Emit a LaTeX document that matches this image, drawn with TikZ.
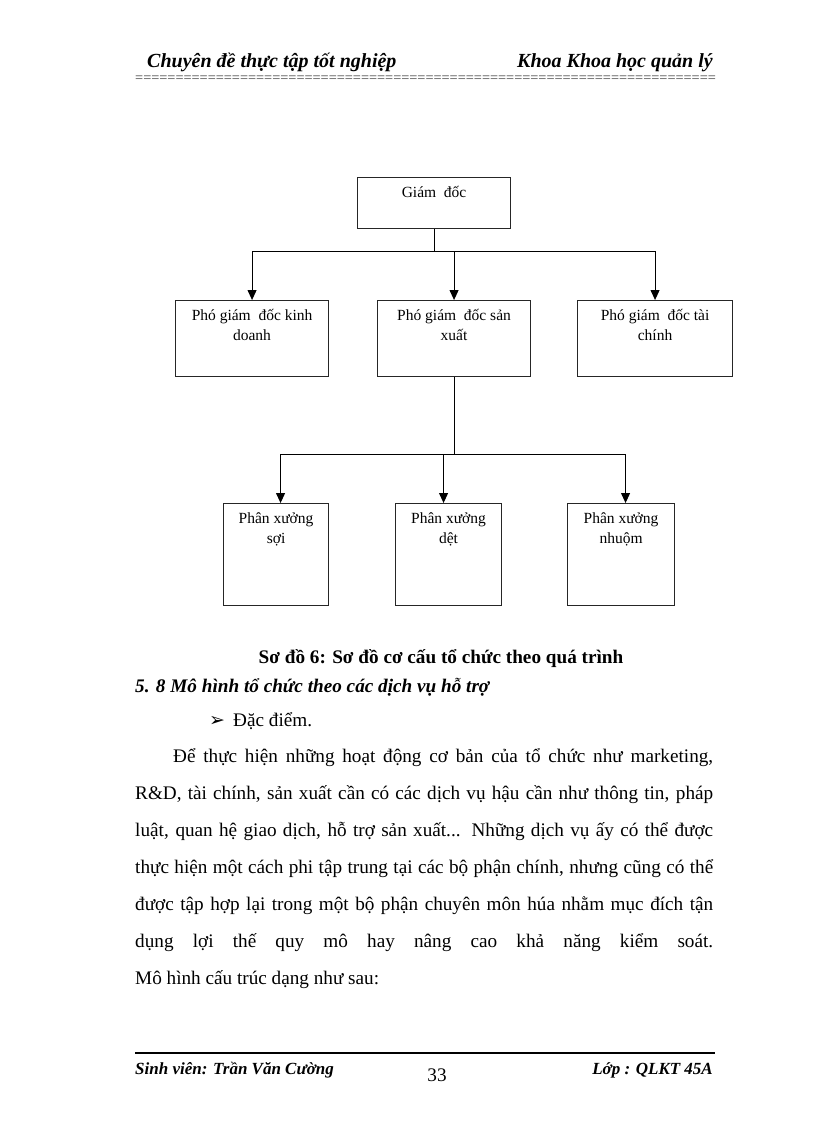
\documentclass[tikz,border=0pt]{standalone}
\usepackage{fontspec}
\setmainfont{Liberation Serif}
\newfontfamily\symfont{DejaVu Sans}
\usetikzlibrary{arrows.meta,positioning}
\newcommand\fsz[2]{\fontsize{#1}{#2}\selectfont}
\tikzset{
 unit/.style={draw=black!85,line width=1.1pt,inner sep=0pt,anchor=north west},
 unittext/.style={font=\fsz{15.5}{20},align=center,inner sep=0pt},
 arr/.style={-{Triangle[length=10pt,width=9pt]},line width=1pt},
 link/.style={line width=1pt},
 pagetext/.style={inner sep=0pt,anchor=base west},
 hdr/.style={pagetext,font=\fsz{20}{24}\bfseries\itshape},
 ftr/.style={pagetext,font=\fsz{17}{20}\bfseries\itshape},
 body/.style={pagetext,font=\fsz{19.2}{37}}
}
\begin{document}
\begin{tikzpicture}[x=1pt,y=-1pt]
\fill[white] (0,0) rectangle (816,1123);
\useasboundingbox (0,0) rectangle (816,1123);
% header and footer
\node[hdr] (hleft) at (147,68) {Chuyên đề thực tập tốt nghiệp};
\node[hdr,anchor=base east] (hright) at (713,68) {Khoa Khoa học quản lý};
\node[pagetext,font=\fsz{14.3}{16},text=black!75] (hrule) at (135,83) {\foreach \i in {1,...,72}{=}};
\draw[line width=2pt] (135,1053) -- (715,1053);
\node[ftr] (fleft) at (135,1074) {Sinh viên: Trần Văn Cường};
\node[body,anchor=base] (fpage) at (437,1081) {33};
\node[ftr,anchor=base east] (fright) at (713,1074) {Lớp : QLKT 45A};
% chart
\node[unit,minimum width=153,minimum height=51] (gd) at (357,177) {};
\node[unittext,below=9pt of gd.north] (gd-t) {Giám~ đốc};
\node[unit,minimum width=153,minimum height=76] (pgd1) at (175,300) {};
\node[unittext,below=9pt of pgd1.north] (pgd1-t) {Phó giám~ đốc kinh\\doanh};
\node[unit,minimum width=153,minimum height=76] (pgd2) at (377,300) {};
\node[unittext,below=9pt of pgd2.north] (pgd2-t) {Phó giám~ đốc sản\\xuất};
\node[unit,minimum width=155,minimum height=76] (pgd3) at (577,300) {};
\node[unittext,below=9pt of pgd3.north] (pgd3-t) {Phó giám~ đốc tài\\chính};
\node[unit,minimum width=105,minimum height=102] (px1) at (223,503) {};
\node[unittext,below=10pt of px1.north] (px1-t) {Phân xưởng\\sợi};
\node[unit,minimum width=106,minimum height=102] (px2) at (395,503) {};
\node[unittext,below=10pt of px2.north] (px2-t) {Phân xưởng\\dệt};
\node[unit,minimum width=107,minimum height=102] (px3) at (567,503) {};
\node[unittext,below=10pt of px3.north] (px3-t) {Phân xưởng\\nhuộm};
\coordinate[below=22pt of gd.south] (bus1);
\draw[link] (gd.south) -- (bus1);
\foreach \n in {pgd1,pgd2,pgd3} \draw[arr] (bus1) -| (\n.north);
\coordinate[below=77pt of pgd2.south] (bus2);
\draw[link] (pgd2.south) -- (bus2);
\foreach \n/\dx in {px1/4.5,px2/-5,px3/4.5} \draw[arr] (bus2) -| ([xshift=\dx pt]\n.north);
% caption and text
\node[body,anchor=base,font=\fsz{19.2}{37}\bfseries] (cap) at (441,663) {Sơ đồ 6: Sơ đồ cơ cấu tổ chức theo quá trình};
\node[body,font=\fsz{19.2}{37}\bfseries\itshape] (sec) at (135,692) {5. 8 Mô hình tổ chức theo các dịch vụ hỗ trợ};
\node[pagetext,font=\symfont\fsz{19}{20}] (bul) at (209,726) {➢};
\node[body] (feat) at (233,726) {Đặc điểm.};
\node[body,anchor=north west,text width=578pt,align=justify] (para) at (135,742) {\tolerance=10000\hspace*{38pt}\rule{0pt}{20pt}Để thực hiện những hoạt động cơ bản của tổ chức như marketing,\linebreak
R\&D, tài chính, sản xuất cần có các dịch vụ hậu cần như thông tin, pháp\linebreak
luật, quan hệ giao dịch, hỗ trợ sản xuất... Những dịch vụ ấy có thể được\linebreak
thực hiện một cách phi tập trung tại các bộ phận chính, nhưng cũng có thể\linebreak
được tập hợp lại trong một bộ phận chuyên môn húa nhằm mục đích tận\linebreak
dụng lợi thế quy mô hay nâng cao khả năng kiểm soát.\linebreak
Mô hình cấu trúc dạng như sau:};
\end{tikzpicture}
\end{document}
